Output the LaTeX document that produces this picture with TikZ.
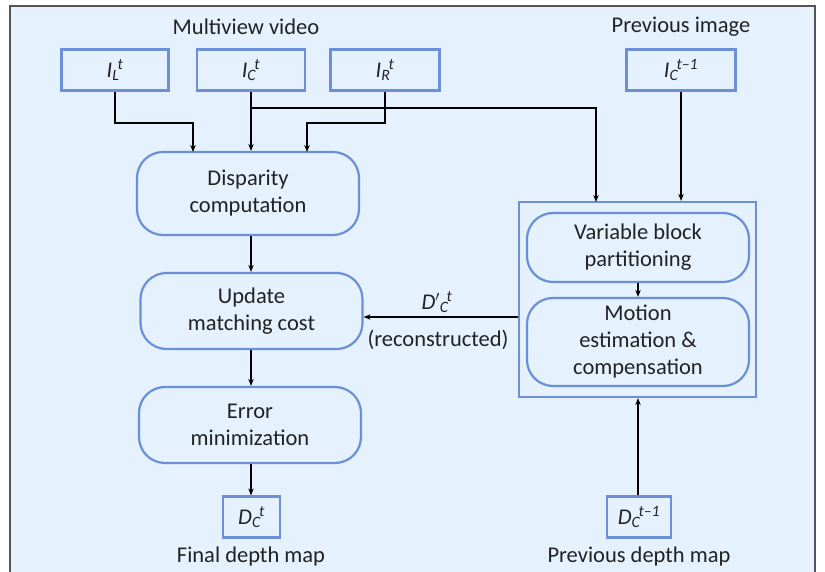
\documentclass[tikz,border=0pt]{standalone}
\usepackage{fontspec}
\setmainfont{Carlito}
\usetikzlibrary{arrows.meta}
\definecolor{bgblue}{HTML}{E5F2FE}
\definecolor{boxblue}{HTML}{6B90D8}
\definecolor{txt}{HTML}{222222}
\definecolor{frame}{HTML}{555555}
\newcommand\subsup[2]{\textsubscript{#1}\kern-0.08em\textsuperscript{#2}}
\begin{document}
\begin{tikzpicture}[x=1pt,y=-1pt,
  every node/.style={text=txt,font=\fontsize{22.5}{27}\selectfont},
  sqbox/.style={draw=boxblue,line width=2.2pt,fill=bgblue,inner sep=0pt,minimum height=41pt},
  rbox/.style={draw=boxblue,line width=2.2pt,fill=bgblue,rounded corners=26pt,inner sep=0pt,align=center,minimum width=222pt},
  arr/.style={-{Stealth[length=7pt,width=5.5pt]},line width=1.1pt,black},
  lbl/.style={inner sep=0pt}]
\useasboundingbox (0,0) rectangle (825,572);
\fill[bgblue] (10,6) rectangle (815,575);
\draw[frame,line width=1.4pt] (10,575) -- (10,6) -- (815,6) -- (815,575);

% labels
\node[lbl] (mv) at (246,27) {Multiview video};
\node[lbl] (pi) at (681,27) {Previous image};
\node[lbl] (fdm) at (251,556) {Final depth map};
\node[lbl] (pdm) at (639,556) {Previous depth map};

% top boxes
\node[sqbox,minimum width=107pt] (IL) at (115,70) {\textit{I\subsup{L}{t}}};
\node[sqbox,minimum width=108pt] (IC) at (251,70) {\textit{I\subsup{C}{t}}};
\node[sqbox,minimum width=109pt] (IR) at (385,70) {\textit{I\subsup{R}{t}}};
\node[sqbox,minimum width=109pt] (ICp) at (681,70) {\textit{I\subsup{C}{t–1}}};

% left column
\node[rbox,minimum height=83pt] (disp) at (248,193.5) {Disparity\\computation};
\node[rbox,minimum height=76pt] (upd) at (251.5,311) {Update\\matching cost};
\node[rbox,minimum height=76pt] (err) at (250,425) {Error\\minimization};
\node[sqbox,minimum width=57pt] (Dct) at (251.5,517) {\textit{D\subsup{C}{t}}};

% right group
\node[draw=boxblue,line width=2.2pt,fill=bgblue,minimum width=237pt,minimum height=195pt,inner sep=0pt] (outer) at (637.5,299.5) {};
\node[rbox,minimum height=69pt] (var) at (638,247.5) {Variable block\\partitioning};
\node[rbox,minimum height=88pt] (mot) at (638,342) {Motion\\estimation \&\\compensation};
\node[sqbox,minimum width=64pt] (Dcp) at (639,517) {\textit{D\subsup{C}{t–1}}};

% edge labels
\node[lbl] (dprime) at (437,302) {\textit{D$'$\subsup{C}{t}}};
\node[lbl] (recon) at (438,340) {(reconstructed)};

% coordinates
\coordinate (jl) at (115,123);
\coordinate (jr) at (385,123);
\coordinate (jc) at (251,108);
\coordinate (dl) at (193,152);
\coordinate (dr) at (307,152);
\coordinate (ot) at (596,202);

% connectors
\draw[arr] (IL.south) -- (jl) -| (dl);
\draw[arr] (IR.south) -- (jr) -| (dr);
\draw[arr] (IC.south) -- (IC.south |- disp.north);
\draw[arr] (jc) -| (ot);
\draw[arr] (ICp.south) -- (ICp.south |- outer.north);
\draw[arr] (disp.south -| IC.south) -- (upd.north -| IC.south);
\draw[arr] (upd.south -| IC.south) -- (err.north -| IC.south);
\draw[arr] (err.south -| IC.south) -- (Dct.north -| IC.south);
\draw[arr] (var.south) -- (mot.north);
\draw[arr] (Dcp.north -| var.south) -- (outer.south -| var.south);
\draw[arr] (outer.west |- 0,317) -- (upd.east |- 0,317);
\end{tikzpicture}
\end{document}
